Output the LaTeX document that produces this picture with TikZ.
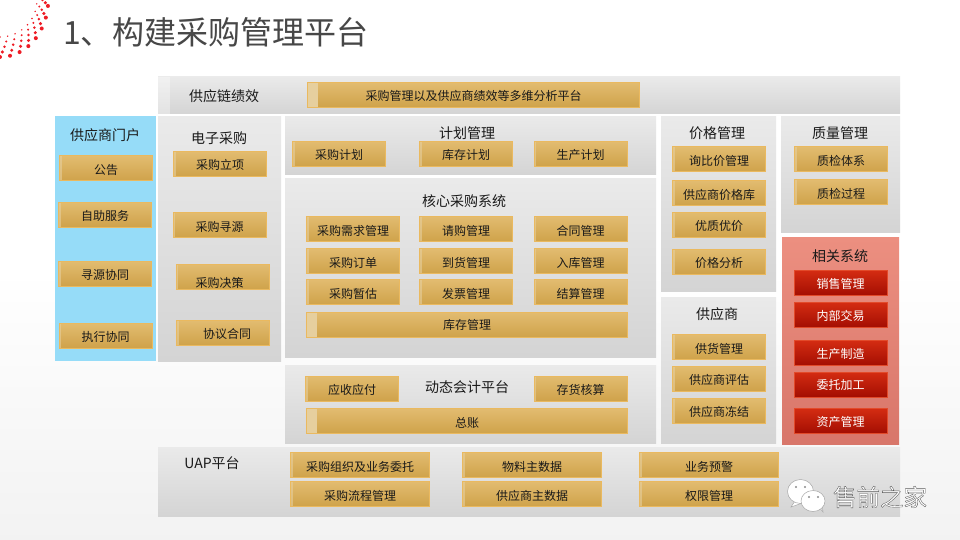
\documentclass[tikz,border=0pt]{standalone}
\usepackage{fontspec}
\setmainfont{Noto Sans CJK SC}
\usepackage{tikz}
\definecolor{goldtop}{HTML}{E2BC70}
\definecolor{goldbot}{HTML}{CFA24A}
\definecolor{goldedge}{HTML}{EAB95F}
\definecolor{goldlight}{HTML}{E6CF9E}
\definecolor{redtop}{HTML}{D42C12}
\definecolor{redbot}{HTML}{A30E02}
\definecolor{rededge}{HTML}{E24A2A}
\definecolor{paneltop}{HTML}{EAEAEA}
\definecolor{panelbot}{HTML}{D4D4D4}
\definecolor{portalblue}{HTML}{96DCF8}
\definecolor{relatedtop}{HTML}{EC8F80}
\definecolor{relatedbot}{HTML}{D8766A}
\definecolor{dotred}{HTML}{EE1C25}
\newcommand{\strokedtext}[1]{\special{pdf:code q 2 Tr 0.35 w 0.35 0.35 0.35 RG}#1\special{pdf:code Q}}
\tikzset{
    panelbox/.style={inner sep=0pt, top color=paneltop, bottom color=panelbot},
    panelstrip/.style={path picture={\fill[white, opacity=0.35] (path picture bounding box.south west) rectangle ([xshift=12pt]path picture bounding box.north west);}},
    golditem/.style={draw=goldedge, line width=1pt, inner sep=0pt, top color=goldtop, bottom color=goldbot, minimum width=93pt, minimum height=25pt, text height=12pt, text depth=0pt, font=\fontsize{12}{12}\selectfont, text=black!90},
    reditem/.style={draw=rededge, line width=1pt, inner sep=0pt, top color=redtop, bottom color=redbot, minimum width=93pt, minimum height=25pt, text height=10pt, text depth=0pt, font=\fontsize{12}{12}\selectfont, text=white},
    paneltitle/.style={inner sep=0pt, text height=11pt, text depth=0pt, font=\fontsize{14}{14}\selectfont, text=black!90},
    goldsmall/.style={golditem, path picture={\fill[goldlight, opacity=0.6] (path picture bounding box.south west) rectangle ([xshift=2pt]path picture bounding box.north west);}},
    goldbar/.style={golditem, path picture={\fill[goldlight] (path picture bounding box.south west) rectangle ([xshift=10pt]path picture bounding box.north west);}}
}
\begin{document}
\begin{tikzpicture}[x=1pt, y=-1pt]
    \useasboundingbox (0,0) rectangle (960,540);
    \shade[top color=white, bottom color=black!5, middle color=white] (0,0) rectangle (960,540);

    % title and dots
    \foreach \k in {0,...,4}
        \foreach \a in {-6,6,...,96}
            \fill[dotred] ({(37+2.8*\k)*cos(\a+3*\k)},{(37+5*\k)*sin(\a+3*\k)}) circle ({0.8+0.3*\k});
    \node (title) [inner sep=0pt, anchor=west, text=black!72, font=\fontsize{32}{32}\selectfont] at (63,32) {1、构建采购管理平台};

    % panels
    \node (kpi) [panelbox, panelstrip, minimum width=742pt, minimum height=37pt] at (529,95.5) {};
    \node (portal) [inner sep=0pt, fill=portalblue, minimum width=101pt, minimum height=245pt] at (105.5,238.5) {};
    \node (eproc) [panelbox, minimum width=123pt, minimum height=244pt] at (219.5,239) {};
    \node (plan) [panelbox, minimum width=371pt, minimum height=58pt] at (470.5,146) {};
    \node (core) [panelbox, minimum width=371pt, minimum height=178pt] at (470.5,268) {};
    \node (acct) [panelbox, minimum width=371pt, minimum height=78pt] at (470.5,404) {};
    \node (price) [panelbox, minimum width=115pt, minimum height=174pt] at (718.5,204) {};
    \node (vendor) [panelbox, minimum width=115pt, minimum height=146pt] at (718.5,370) {};
    \node (quality) [panelbox, minimum width=119pt, minimum height=115pt] at (840.5,174.5) {};
    \node (related) [inner sep=0pt, top color=relatedtop, bottom color=relatedbot, minimum width=117pt, minimum height=207pt] at (840.5,340.5) {};
    \node (uap) [panelbox, minimum width=742pt, minimum height=69pt] at (529,481.5) {};

    % panel titles
    \foreach \nm/\cx/\cy/\txt in {kpititle/224/96/供应链绩效, portaltitle/105/135/供应商门户, eproctitle/219/138/电子采购,
        plantitle/467/133/计划管理, coretitle/464/201/核心采购系统, acctitle/467/387/动态会计平台,
        pricetitle/717/133/价格管理, vendortitle/717/314/供应商, qualitytitle/840/133/质量管理,
        relatedtitle/840/256/相关系统, uaptitle/212/463/UAP平台}
        \node (\nm) [paneltitle] at (\cx,\cy) {\txt};

    % long bars
    \node (kpibar) [goldbar, minimum width=332pt] at (473.5,95) {采购管理以及供应商绩效等多维分析平台};
    \node (stock) [goldbar, text height=8pt, minimum width=321pt] at (467,325) {库存管理};
    \node (ledger) [goldbar, minimum width=321pt] at (467,421) {总账};

    % items
    \foreach \nm/\cx/\cy/\txt in {notice/106/168.5/公告, selfsvc/105/214.5/自助服务, sourcing/105/273.5/寻源协同, execute/105.5/335.5/执行协同,
        setup/220/164/采购立项, seek/219.5/225/采购寻源,
        planb/339/154/采购计划, stockplan/466/154/库存计划, prodplan/580.5/154/生产计划,
        demand/353/229/采购需求管理, request/466/229/请购管理, contract/580.5/229/合同管理,
        order/353/261/采购订单, arrive/466/261/到货管理, inbound/580.5/261/入库管理,
        estimate/353/292/采购暂估, invoice/466/292/发票管理, settle/580.5/292/结算管理,
        payable/352/388.5/应收应付, costing/580.5/388.5/存货核算,
        compare/719/159.5/询比价管理, vprice/719/193/供应商价格库, best/719/224.5/优质优价, analyse/719/261.5/价格分析,
        supply/719/347/供货管理, assess/719/378.5/供应商评估, freeze/719/410.5/供应商冻结,
        qsystem/841/159.5/质检体系, qprocess/841/192/质检过程}
        \node (\nm) [goldsmall] at (\cx,\cy) {\txt};
    \node (decide) [goldsmall, text height=20pt] at (222.5,277) {采购决策\hspace*{6pt}};
    \node (contractb) [goldsmall, text height=10pt] at (223,333) {\hspace*{8pt}协议合同};

    \foreach \nm/\cx/\cy/\txt in {orgdel/360/465/采购组织及业务委托, flow/360/494/采购流程管理, material/532/465/物料主数据,
        vendordata/532/494/供应商主数据, budget/709/465/业务预警, rights/709/494/权限管理}
        \node (\nm) [goldsmall, minimum width=139pt] at (\cx,\cy) {\txt};

    \foreach \nm/\cx/\cy/\txt in {sales/840.5/283/销售管理, internal/840.5/315/内部交易, produce/840.5/353/生产制造,
        outsrc/840.5/384.5/委托加工, asset/840.5/421/资产管理}
        \node (\nm) [reditem] at (\cx,\cy) {\txt};

    % wechat mark
    \filldraw[fill=white, draw=black!35, line width=0.5pt] (795,501) -- (791,507) -- (801,503.5) -- cycle;
    \filldraw[fill=white, draw=black!35, line width=0.5pt] (800.5,491.5) ellipse (13 and 12);
    \filldraw[fill=white, draw=black!35, line width=0.5pt] (819,507) -- (823,512) -- (822,504) -- cycle;
    \filldraw[fill=white, draw=black!35, line width=0.5pt] (813,501) ellipse (12 and 10.5);
    \foreach \cx/\cy in {796/487, 805/487, 809/497, 818/497}
        \fill[black!45] (\cx,\cy) circle (1.2);
    \node (brand) [inner sep=0pt, text=white, font=\fontsize{23.5}{24}\selectfont] at (880,497) {\strokedtext{售前之家}};
\end{tikzpicture}
\end{document}
